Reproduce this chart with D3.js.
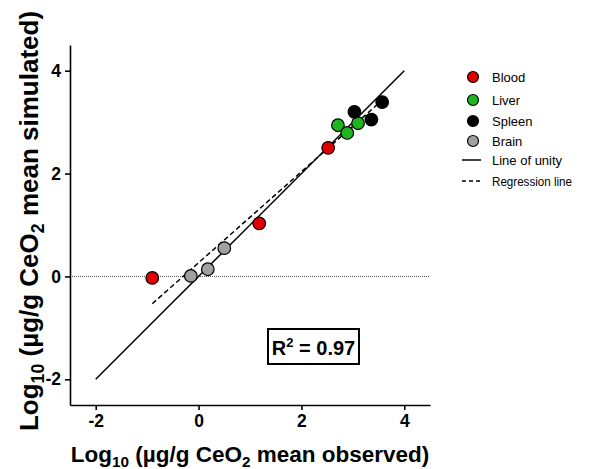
<!DOCTYPE html>
<html><head><meta charset="utf-8">
<script src="https://cdn.jsdelivr.net/npm/d3@7"></script>
<style>body{margin:0;background:#fff}svg{display:block}text{font-family:Arial,"Liberation Sans",sans-serif}</style>
</head><body>
<svg id="c" width="594" height="469"></svg>
<script>
const groups = ["Blood","Liver","Spleen","Brain"];
const groupColors = ["#e00000","#1fb51f","#000000","#a0a0a0"];
const bloodObs = [-0.9, 1.18, 2.52];
const bloodSim = [-0.03, 1.03, 2.5];
const liverObs = [2.71, 2.89, 3.10];
const liverSim = [2.94, 2.79, 2.98];
const spleenObs = [3.03, 3.36, 3.57];
const spleenSim = [3.20, 3.05, 3.39];
const brainObs = [-0.15, 0.18, 0.5];
const brainSim = [0.01, 0.14, 0.55];
const xTicks = [-2, 0, 2, 4];
const yTicks = [-2, 0, 2, 4];
const unityLine = [-2, 4];
const regSlope = 0.885, regIntercept = 0.266, regRange = [-0.9, 3.57];
const r2Label = "0.97";

const svg = d3.select("#c");
const x = d3.scaleLinear().domain([-2.5, 4.5]).range([70, 430]);
const y = d3.scaleLinear().domain([-2.5, 4.5]).range([405, 45]);

// zero dotted line
svg.append("line").attr("x1", x(-2.5)).attr("x2", x(4.5)).attr("y1", y(0)).attr("y2", y(0))
  .attr("stroke", "#555").attr("stroke-width", 1).attr("stroke-dasharray", "1,1");

// axes
const fmt = d => String(d);
const xa = svg.append("g").attr("transform", `translate(0,${y(-2.5)})`)
  .call(d3.axisBottom(x).tickValues(xTicks).tickFormat(fmt).tickSize(5).tickSizeOuter(0).tickPadding(5));
const ya = svg.append("g").attr("transform", `translate(${x(-2.5)},0)`)
  .call(d3.axisLeft(y).tickValues(yTicks).tickFormat(fmt).tickSize(5).tickSizeOuter(0).tickPadding(4));
[xa, ya].forEach(a => {
  a.selectAll("path,line").attr("stroke", "#000").attr("stroke-width", 1.6);
  a.selectAll("text").attr("font-size", 17.5).attr("font-weight", "bold").attr("fill", "#000")
   .attr("font-family", "Arial, 'Liberation Sans', sans-serif");
});

// unity line
svg.append("line").attr("x1", x(unityLine[0])).attr("y1", y(unityLine[0]))
  .attr("x2", x(unityLine[1])).attr("y2", y(unityLine[1])).attr("stroke", "#000").attr("stroke-width", 1.5);
// regression line
svg.append("line").attr("x1", x(regRange[0])).attr("y1", y(regSlope*regRange[0]+regIntercept))
  .attr("x2", x(regRange[1])).attr("y2", y(regSlope*regRange[1]+regIntercept))
  .attr("stroke", "#000").attr("stroke-width", 1.5).attr("stroke-dasharray", "5,3");

// points
const series = [[bloodObs, bloodSim], [liverObs, liverSim], [spleenObs, spleenSim], [brainObs, brainSim]];
series.forEach((s, gi) => {
  const pts = s[0].map((v, i) => [v, s[1][i]]);
  svg.append("g").selectAll("circle").data(pts).join("circle")
    .attr("cx", d => x(d[0])).attr("cy", d => y(d[1])).attr("r", 6.3)
    .attr("fill", groupColors[gi]).attr("stroke", "#000").attr("stroke-width", 1.2);
});

// R2 box
svg.append("rect").attr("x", 268).attr("y", 329).attr("width", 91).attr("height", 35)
  .attr("fill", "#fff").attr("stroke", "#000").attr("stroke-width", 2);
const rt = svg.append("text").attr("x", 313.5).attr("y", 355).attr("text-anchor", "middle")
  .attr("font-size", 20).attr("font-weight", "bold");
rt.append("tspan").text("R");
rt.append("tspan").attr("font-size", 13).attr("dy", -8).text("2");
rt.append("tspan").attr("dy", 8).text(" = " + r2Label);

// legend
const lg = svg.append("g");
const legY = [77, 100, 121, 141, 160, 181];
groups.forEach((g, i) => {
  lg.append("circle").attr("cx", 473).attr("cy", legY[i]).attr("r", 5.5)
    .attr("fill", groupColors[i]).attr("stroke", "#000").attr("stroke-width", 1.2);
  lg.append("text").attr("x", 492).attr("y", legY[i] + 5).attr("font-size", 13).text(g);
});
lg.append("line").attr("x1", 462).attr("x2", 481).attr("y1", legY[4]).attr("y2", legY[4]).attr("stroke", "#000").attr("stroke-width", 1.5);
lg.append("text").attr("x", 492).attr("y", legY[4] + 5).attr("font-size", 13).text("Line of unity");
lg.append("line").attr("x1", 462).attr("x2", 481).attr("y1", legY[5]).attr("y2", legY[5]).attr("stroke", "#000").attr("stroke-width", 1.5).attr("stroke-dasharray", "4,3");
lg.append("text").attr("x", 492).attr("y", legY[5] + 5).attr("font-size", 13).text("Regression line")
  .attr("textLength", 80).attr("lengthAdjust", "spacingAndGlyphs");

// axis titles
function title(sel, last, fs) {
  sel.append("tspan").text("Log");
  sel.append("tspan").attr("font-size", fs * 0.68).attr("dy", fs * 0.22).text("10");
  sel.append("tspan").attr("dy", -fs * 0.22).text(" (µg/g CeO");
  sel.append("tspan").attr("font-size", fs * 0.68).attr("dy", fs * 0.22).text("2");
  sel.append("tspan").attr("dy", -fs * 0.22).text(" " + last + ")");
}
const xt = svg.append("text").attr("x", 250).attr("y", 462).attr("text-anchor", "middle")
  .attr("font-size", 22.5).attr("font-weight", "bold");
title(xt, "mean observed", 22.5);
const yt = svg.append("text").attr("transform", "translate(38,221) rotate(-90)").attr("text-anchor", "middle")
  .attr("font-size", 26).attr("font-weight", "bold");
title(yt, "mean simulated", 26);
</script>
</body></html>
